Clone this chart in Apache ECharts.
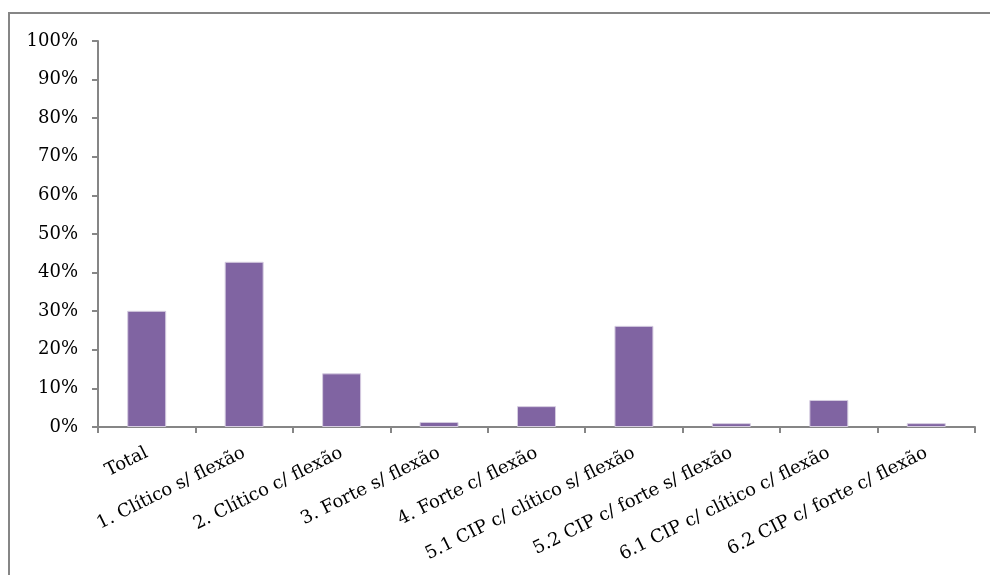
<!DOCTYPE html>
<html>
<head>
<meta charset="utf-8">
<script src="https://cdn.jsdelivr.net/npm/echarts@6/dist/echarts.min.js"></script>
<style>
html,body{margin:0;padding:0;background:#fff;}
#c{width:990px;height:575px;}
</style>
</head>
<body>
<div id="c"></div>
<script>
const categories = ["Total","1. Clítico s/ flexão","2. Clítico c/ flexão","3. Forte s/ flexão","4. Forte c/ flexão","5.1 CIP c/ clítico s/ flexão","5.2 CIP c/ forte s/ flexão","6.1 CIP c/ clítico c/ flexão","6.2 CIP c/ forte c/ flexão"];
const values = [30.1, 42.8, 13.9, 1.3, 5.4, 26.2, 1.0, 7.0, 1.0];
const yTicks = [0,10,20,30,40,50,60,70,80,90,100];

const chart = echarts.init(document.getElementById('c'), null, {renderer:'canvas'});
const font = '"DejaVu Serif", serif';
chart.setOption({
  animation:false,
  backgroundColor:'#fff',
  graphic:[{type:'rect',shape:{x:9,y:13,width:1000,height:600},style:{fill:'none',stroke:'#868686',lineWidth:2}}],
  grid:{left:98,right:15,top:41,bottom:148,containLabel:false},
  xAxis:{
    type:'category',data:categories,
    axisLine:{lineStyle:{color:'#868686',width:2}},
    axisTick:{show:true,length:6,alignWithLabel:false,lineStyle:{color:'#868686',width:2}},
    axisLabel:{rotate:26.5,interval:0,margin:25,color:'#000',fontFamily:font,fontSize:18}
  },
  yAxis:{
    type:'value',min:yTicks[0],max:yTicks[yTicks.length-1],interval:10,
    axisLine:{show:true,lineStyle:{color:'#868686',width:2}},
    axisTick:{show:true,length:6,lineStyle:{color:'#868686',width:2}},
    splitLine:{show:false},
    axisLabel:{margin:20,color:'#000',fontFamily:font,fontSize:18,formatter:v=>v+'%'}
  },
  series:[{type:'bar',data:values,barWidth:'40%',itemStyle:{color:'#8064A2',borderColor:'#d5cce0',borderWidth:1}}]
});
</script>
</body>
</html>
